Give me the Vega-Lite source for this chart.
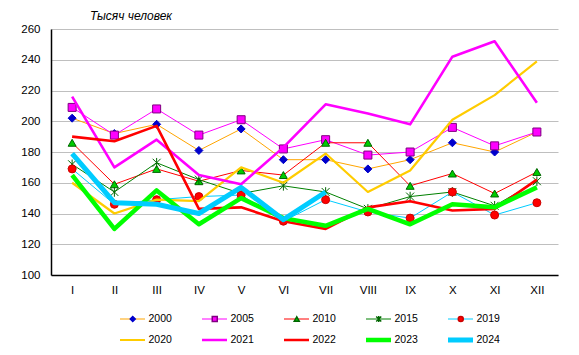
{
  "$schema": "https://vega.github.io/schema/vega-lite/v6.json",
  "width": 507,
  "height": 246,
  "autosize": {"type": "none"},
  "padding": {"left": 51, "top": 29, "right": 21, "bottom": 80},
  "background": "white",
  "config": {"view": {"stroke": null}, "font": "Liberation Sans"},
  "title": {"text": "Тысяч человек", "anchor": "start", "frame": "group", "dx": 39, "offset": 0, "fontSize": 12, "fontStyle": "italic", "fontWeight": "normal", "font": "Liberation Sans", "color": "black"},
  "data": {"values": [
    {"year":"2000","month":"I","value":202},{"year":"2000","month":"II","value":192},{"year":"2000","month":"III","value":198},{"year":"2000","month":"IV","value":181},{"year":"2000","month":"V","value":195},{"year":"2000","month":"VI","value":175},{"year":"2000","month":"VII","value":175},{"year":"2000","month":"VIII","value":169},{"year":"2000","month":"IX","value":175},{"year":"2000","month":"X","value":186},{"year":"2000","month":"XI","value":180},{"year":"2000","month":"XII","value":193},
    {"year":"2005","month":"I","value":209},{"year":"2005","month":"II","value":191},{"year":"2005","month":"III","value":208},{"year":"2005","month":"IV","value":191},{"year":"2005","month":"V","value":201},{"year":"2005","month":"VI","value":182},{"year":"2005","month":"VII","value":188},{"year":"2005","month":"VIII","value":178},{"year":"2005","month":"IX","value":180},{"year":"2005","month":"X","value":196},{"year":"2005","month":"XI","value":184},{"year":"2005","month":"XII","value":193},
    {"year":"2010","month":"I","value":186},{"year":"2010","month":"II","value":159},{"year":"2010","month":"III","value":169},{"year":"2010","month":"IV","value":161},{"year":"2010","month":"V","value":168},{"year":"2010","month":"VI","value":165},{"year":"2010","month":"VII","value":186},{"year":"2010","month":"VIII","value":186},{"year":"2010","month":"IX","value":158},{"year":"2010","month":"X","value":166},{"year":"2010","month":"XI","value":153},{"year":"2010","month":"XII","value":167},
    {"year":"2015","month":"I","value":172},{"year":"2015","month":"II","value":154},{"year":"2015","month":"III","value":173},{"year":"2015","month":"IV","value":162},{"year":"2015","month":"V","value":153},{"year":"2015","month":"VI","value":158},{"year":"2015","month":"VII","value":154},{"year":"2015","month":"VIII","value":143},{"year":"2015","month":"IX","value":151},{"year":"2015","month":"X","value":154},{"year":"2015","month":"XI","value":145},{"year":"2015","month":"XII","value":161},
    {"year":"2019","month":"I","value":169},{"year":"2019","month":"II","value":146},{"year":"2019","month":"III","value":149},{"year":"2019","month":"IV","value":151},{"year":"2019","month":"V","value":152},{"year":"2019","month":"VI","value":135},{"year":"2019","month":"VII","value":149},{"year":"2019","month":"VIII","value":141},{"year":"2019","month":"IX","value":137},{"year":"2019","month":"X","value":154},{"year":"2019","month":"XI","value":139},{"year":"2019","month":"XII","value":147},
    {"year":"2020","month":"I","value":160},{"year":"2020","month":"II","value":140},{"year":"2020","month":"III","value":149},{"year":"2020","month":"IV","value":148},{"year":"2020","month":"V","value":170},{"year":"2020","month":"VI","value":160},{"year":"2020","month":"VII","value":179},{"year":"2020","month":"VIII","value":154},{"year":"2020","month":"IX","value":168},{"year":"2020","month":"X","value":201},{"year":"2020","month":"XI","value":217},{"year":"2020","month":"XII","value":239},
    {"year":"2021","month":"I","value":216},{"year":"2021","month":"II","value":170},{"year":"2021","month":"III","value":188},{"year":"2021","month":"IV","value":165},{"year":"2021","month":"V","value":159},{"year":"2021","month":"VI","value":183},{"year":"2021","month":"VII","value":211},{"year":"2021","month":"VIII","value":205},{"year":"2021","month":"IX","value":198},{"year":"2021","month":"X","value":242},{"year":"2021","month":"XI","value":252},{"year":"2021","month":"XII","value":212},
    {"year":"2022","month":"I","value":190},{"year":"2022","month":"II","value":187},{"year":"2022","month":"III","value":197},{"year":"2022","month":"IV","value":143},{"year":"2022","month":"V","value":144},{"year":"2022","month":"VI","value":135},{"year":"2022","month":"VII","value":130},{"year":"2022","month":"VIII","value":144},{"year":"2022","month":"IX","value":148},{"year":"2022","month":"X","value":142},{"year":"2022","month":"XI","value":143},{"year":"2022","month":"XII","value":162},
    {"year":"2023","month":"I","value":165},{"year":"2023","month":"II","value":130},{"year":"2023","month":"III","value":155},{"year":"2023","month":"IV","value":133},{"year":"2023","month":"V","value":150},{"year":"2023","month":"VI","value":137},{"year":"2023","month":"VII","value":132},{"year":"2023","month":"VIII","value":143},{"year":"2023","month":"IX","value":133},{"year":"2023","month":"X","value":146},{"year":"2023","month":"XI","value":144},{"year":"2023","month":"XII","value":157},
    {"year":"2024","month":"I","value":179},{"year":"2024","month":"II","value":147},{"year":"2024","month":"III","value":146},{"year":"2024","month":"IV","value":140},{"year":"2024","month":"V","value":157},{"year":"2024","month":"VI","value":136},{"year":"2024","month":"VII","value":154}
  ]},
  "encoding": {
    "x": {"field": "month", "type": "ordinal", "sort": ["I","II","III","IV","V","VI","VII","VIII","IX","X","XI","XII"], "scale": {"type": "point", "padding": 0.5},
      "axis": {"title": null, "labelAngle": 0, "ticks": false, "domainColor": "black", "domainWidth": 1.5, "labelFontSize": 11.5, "labelFont": "Liberation Sans", "labelPadding": 9, "grid": false, "labelColor": "black"}},
    "y": {"field": "value", "type": "quantitative", "scale": {"domain": [100, 260], "nice": false, "zero": false},
      "axis": {"title": null, "values": [100,120,140,160,180,200,220,240,260], "ticks": false, "domainColor": "black", "domainWidth": 1.5, "gridColor": "#BFBFBF", "gridWidth": 1, "labelFontSize": 11.5, "labelFont": "Liberation Sans", "labelPadding": 11, "labelColor": "black"}}
  },
  "layer": [
    {
      "transform": [{"filter": {"field": "year", "oneOf": ["2000","2005","2010","2015","2019"]}}],
      "mark": {"type": "line", "strokeCap": "butt", "strokeJoin": "round"},
      "encoding": {
        "color": {"field": "year", "type": "nominal",
          "scale": {"domain": ["2000","2005","2010","2015","2019","2020","2021","2022","2023","2024"], "range": ["#FFA500","#FF00FF","#FF0000","#008000","#00CCFF","#FFCC00","#FF00FF","#FF0000","#00FF00","#00CCFF"]},
          "legend": {"orient": "none", "direction": "horizontal", "legendX": 66.5, "legendY": 283, "columns": 5, "symbolType": "stroke", "symbolSize": 625, "labelOffset": 1, "columnPadding": 27, "rowPadding": 7, "clipHeight": 14, "title": null, "labelFontSize": 10.5, "labelFont": "Liberation Sans", "labelColor": "black"}},
        "strokeWidth": {"field": "year", "type": "nominal",
          "scale": {"type": "ordinal", "domain": ["2000","2005","2010","2015","2019","2020","2021","2022","2023","2024"], "range": [1,1,1,1,1,2.2,2.6,2.6,4.5,5]}}
      }
    },
    {
      "transform": [{"filter": {"field": "year", "oneOf": ["2000","2005","2010","2015","2019"]}}],
      "mark": {"type": "point", "filled": true, "opacity": 1, "size": 64, "strokeWidth": 1},
      "encoding": {
        "shape": {"field": "year", "type": "nominal",
          "scale": {"domain": ["2000","2005","2010","2015","2019"], "range": ["diamond","square","triangle-up","M-1,-1L1,1M-1,1L1,-1M0,-1.2L0,1.2","circle"]},
          "legend": {"orient": "none", "direction": "horizontal", "legendX": 66.5, "legendY": 283, "columns": 5, "symbolSize": 25, "symbolOffset": 10, "labelOffset": 11, "columnPadding": 27, "rowPadding": 7, "clipHeight": 14, "title": null, "labelFontSize": 10.5, "labelFont": "Liberation Sans", "labelOpacity": 0}},
        "fill": {"field": "year", "type": "nominal",
          "scale": {"domain": ["2000","2005","2010","2015","2019"], "range": ["#0000CC","#FF00FF","#00CC00","#006600","#FF0000"]}},
        "stroke": {"field": "year", "type": "nominal",
          "scale": {"domain": ["2000","2005","2010","2015","2019"], "range": ["#0000CC","#800080","#006600","#006600","#CC0000"]}}
      }
    },
    {
      "transform": [{"filter": {"field": "year", "oneOf": ["2020","2021","2022","2023","2024"]}}],
      "mark": {"type": "line", "strokeCap": "butt", "strokeJoin": "round"},
      "encoding": {
        "color": {"field": "year", "type": "nominal",
          "scale": {"domain": ["2000","2005","2010","2015","2019","2020","2021","2022","2023","2024"], "range": ["#FFA500","#FF00FF","#FF0000","#008000","#00CCFF","#FFCC00","#FF00FF","#FF0000","#00FF00","#00CCFF"]}},
        "strokeWidth": {"field": "year", "type": "nominal",
          "scale": {"type": "ordinal", "domain": ["2000","2005","2010","2015","2019","2020","2021","2022","2023","2024"], "range": [1,1,1,1,1,2.2,2.6,2.6,4.5,5]}}
      }
    }
  ]
}
